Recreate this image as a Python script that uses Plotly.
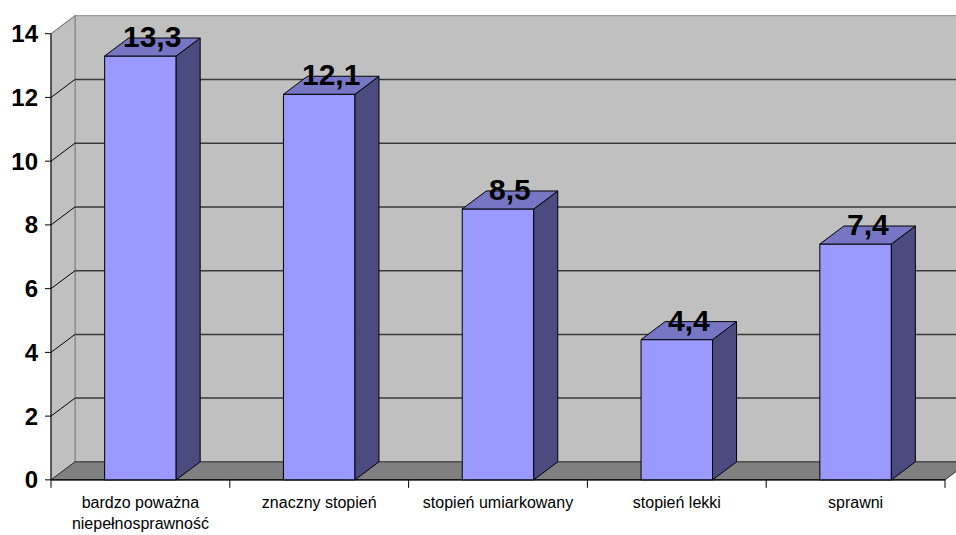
import plotly.graph_objects as go

# ---- data ----
categories = ["bardzo poważna<br>niepełnosprawność", "znaczny stopień",
              "stopień umiarkowany", "stopień lekki", "sprawni"]
values = [13.3, 12.1, 8.5, 4.4, 7.4]
y_ticks = [0, 2, 4, 6, 8, 10, 12, 14]
y_max = 14

# ---- geometry / style (pixels converted to data units) ----
W, H = 956, 535
ML, MR, MT, MB = 45, 0, 13, 44
AXIS_LEFT_PX = 51
PX_X = 178.8                    # px per category
Y_LO, Y_HI = -0.35, 14.65
PX_Y = (H - MT - MB) / (Y_HI - Y_LO)
DX = 24 / PX_X                  # 3D depth in x units
DY = 18 / PX_Y                  # 3D depth in y units
BAR_HALF = 0.2

x_lo = -0.5 - (AXIS_LEFT_PX - ML) / PX_X
x_hi = -0.5 + (W - AXIS_LEFT_PX) / PX_X
n = len(categories)
xs = list(range(n))
left, right = -0.5, n - 0.5

WALL = "#C0C0C0"
FLOOR = "#808080"
EDGE = "#808080"
GRID = "#3a3a3a"
FRONT = "#9999FF"
TOP = "#7676C4"
SIDE = "#4B4B80"

shapes = []

def path(pts):
    return "M " + " L ".join(f"{x},{y}" for x, y in pts) + " Z"

# back wall
shapes.append(dict(type="path", xref="x", yref="y", layer="below",
                   path=path([(left + DX, DY), (right + DX, DY),
                              (right + DX, y_max + DY), (left + DX, y_max + DY)]),
                   fillcolor=WALL, line=dict(color=EDGE, width=1)))
# left side wall
shapes.append(dict(type="path", xref="x", yref="y", layer="below",
                   path=path([(left, 0), (left + DX, DY),
                              (left + DX, y_max + DY), (left, y_max)]),
                   fillcolor=WALL, line=dict(color=EDGE, width=1)))
# floor
shapes.append(dict(type="path", xref="x", yref="y", layer="below",
                   path=path([(left, 0), (right, 0), (right + DX, DY), (left + DX, DY)]),
                   fillcolor=FLOOR, line=dict(color="#303030", width=1)))
# gridlines on back wall + diagonals on side wall
for v in y_ticks:
    if 0 < v < y_max:
        shapes.append(dict(type="line", xref="x", yref="y", layer="below",
                           x0=left + DX, x1=right + DX, y0=v + DY, y1=v + DY,
                           line=dict(color=GRID, width=1.5)))
    if v > 0:
        shapes.append(dict(type="line", xref="x", yref="y", layer="below",
                           x0=left, x1=left + DX, y0=v, y1=v + DY,
                           line=dict(color="#000000" if v < y_max else EDGE, width=1)))
# y axis line & ticks
shapes.append(dict(type="line", xref="x", yref="y", layer="below",
                   x0=left, x1=left, y0=0, y1=y_max, line=dict(color="black", width=1)))
for v in y_ticks:
    shapes.append(dict(type="line", xref="x", yref="y", layer="below",
                       x0=left - 6 / PX_X, x1=left, y0=v, y1=v,
                       line=dict(color="black", width=1)))
# x axis line & boundary ticks
shapes.append(dict(type="line", xref="x", yref="y", layer="below",
                   x0=left, x1=right, y0=0, y1=0, line=dict(color="black", width=1.2)))
for i in range(n + 1):
    b = i - 0.5
    shapes.append(dict(type="line", xref="x", yref="y", layer="below",
                       x0=b, x1=b, y0=0, y1=-8 / PX_Y, line=dict(color="black", width=1)))

# 3D bar top and side faces
for x, v in zip(xs, values):
    x0, x1 = x - BAR_HALF, x + BAR_HALF
    shapes.append(dict(type="path", xref="x", yref="y", layer="above",
                       path=path([(x1, 0), (x1 + DX, DY), (x1 + DX, v + DY), (x1, v)]),
                       fillcolor=SIDE, line=dict(color="black", width=1)))
    shapes.append(dict(type="path", xref="x", yref="y", layer="above",
                       path=path([(x0, v), (x1, v), (x1 + DX, v + DY), (x0 + DX, v + DY)]),
                       fillcolor=TOP, line=dict(color="black", width=1)))

annotations = []
for x, v in zip(xs, values):
    annotations.append(dict(x=x + DX / 2, y=v + DY + 0.05, xref="x", yref="y",
                            text=f"{v:.1f}".replace(".", ","), showarrow=False,
                            xanchor="center", yanchor="middle",
                            font=dict(family="Liberation Sans, Arial", size=30,
                                      color="black", weight="bold")))

fig = go.Figure()
fig.add_trace(go.Bar(x=xs, y=values, width=2 * BAR_HALF,
                     marker=dict(color=FRONT, line=dict(color="black", width=1)),
                     hoverinfo="skip"))

fig.update_layout(
    width=W, height=H,
    margin=dict(l=ML, r=MR, t=MT, b=MB, pad=0, autoexpand=False),
    paper_bgcolor="white", plot_bgcolor="white",
    showlegend=False,
    shapes=shapes, annotations=annotations,
    xaxis=dict(range=[x_lo, x_hi], tickmode="array", tickvals=xs, ticktext=categories,
               showgrid=False, zeroline=False, showline=False, ticks="",
               automargin=False,
               tickfont=dict(family="Liberation Sans, Arial", size=16, color="black"),
               ticklabelstandoff=0),
    yaxis=dict(range=[Y_LO, Y_HI], tickmode="array", tickvals=y_ticks,
               ticktext=[str(t) for t in y_ticks], automargin=False,
               showgrid=False, zeroline=False, showline=False, ticks="",
               ticklabelstandoff=6,
               tickfont=dict(family="Liberation Sans, Arial", size=24, color="black",
                             weight="bold")),
)

fig.write_html("out.html", config={"displayModeBar": False},
               post_script="document.body.style.margin='0';document.body.style.overflow='hidden';")
